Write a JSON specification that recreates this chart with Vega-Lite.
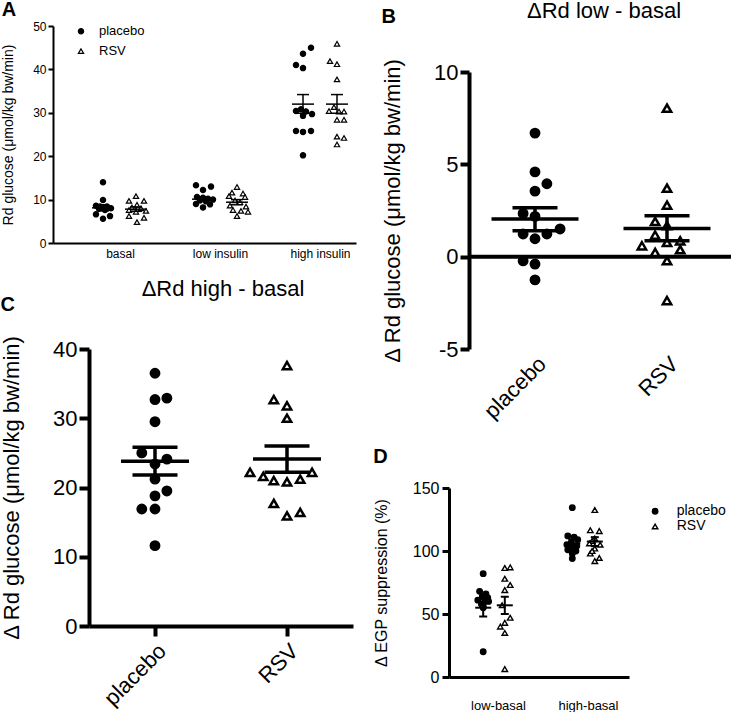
{
  "$schema": "https://vega.github.io/schema/vega-lite/v6.json",
  "padding": {"left": 0, "top": 0, "right": 0, "bottom": 0},
  "background": "white",
  "config": {
    "font": "Liberation Sans",
    "view": {"stroke": null},
    "axis": {"grid": false, "domainColor": "black", "tickColor": "black", "labelColor": "black", "titleColor": "black", "titleFontWeight": "normal", "labelFont": "Liberation Sans", "titleFont": "Liberation Sans"},
    "title": {"color": "black", "font": "Liberation Sans"}
  },
  "datasets": {
    "A_pts": [
      {"grp": "placebo", "x": 0.83, "v": 14.0}, {"grp": "placebo", "x": 0.83, "v": 9.9}, {"grp": "placebo", "x": 0.76, "v": 8.6}, {"grp": "placebo", "x": 0.80, "v": 8.4}, {"grp": "placebo", "x": 0.83, "v": 8.2}, {"grp": "placebo", "x": 0.87, "v": 8.4}, {"grp": "placebo", "x": 0.91, "v": 8.0}, {"grp": "placebo", "x": 0.79, "v": 7.9}, {"grp": "placebo", "x": 0.85, "v": 7.6}, {"grp": "placebo", "x": 0.76, "v": 6.6}, {"grp": "placebo", "x": 0.90, "v": 6.2}, {"grp": "placebo", "x": 0.83, "v": 5.6},
      {"grp": "placebo", "x": 1.76, "v": 13.3}, {"grp": "placebo", "x": 1.83, "v": 12.2}, {"grp": "placebo", "x": 1.91, "v": 13.0}, {"grp": "placebo", "x": 1.77, "v": 10.6}, {"grp": "placebo", "x": 1.83, "v": 10.4}, {"grp": "placebo", "x": 1.88, "v": 10.2}, {"grp": "placebo", "x": 1.93, "v": 10.0}, {"grp": "placebo", "x": 1.80, "v": 9.8}, {"grp": "placebo", "x": 1.86, "v": 9.6}, {"grp": "placebo", "x": 1.76, "v": 9.0}, {"grp": "placebo", "x": 1.90, "v": 8.9}, {"grp": "placebo", "x": 1.83, "v": 8.2},
      {"grp": "placebo", "x": 2.91, "v": 45.0}, {"grp": "placebo", "x": 2.83, "v": 43.6}, {"grp": "placebo", "x": 2.76, "v": 41.0}, {"grp": "placebo", "x": 2.83, "v": 40.3}, {"grp": "placebo", "x": 2.76, "v": 30.4}, {"grp": "placebo", "x": 2.81, "v": 30.8}, {"grp": "placebo", "x": 2.86, "v": 30.3}, {"grp": "placebo", "x": 2.92, "v": 29.7}, {"grp": "placebo", "x": 2.83, "v": 29.3}, {"grp": "placebo", "x": 2.76, "v": 25.8}, {"grp": "placebo", "x": 2.83, "v": 25.6}, {"grp": "placebo", "x": 2.91, "v": 25.8}, {"grp": "placebo", "x": 2.83, "v": 20.2},
      {"grp": "RSV", "x": 1.16, "v": 10.8}, {"grp": "RSV", "x": 1.09, "v": 9.7}, {"grp": "RSV", "x": 1.24, "v": 9.7}, {"grp": "RSV", "x": 1.17, "v": 8.8}, {"grp": "RSV", "x": 1.12, "v": 8.2}, {"grp": "RSV", "x": 1.21, "v": 8.0}, {"grp": "RSV", "x": 1.09, "v": 7.6}, {"grp": "RSV", "x": 1.26, "v": 7.4}, {"grp": "RSV", "x": 1.16, "v": 7.2}, {"grp": "RSV", "x": 1.09, "v": 6.2}, {"grp": "RSV", "x": 1.24, "v": 5.8}, {"grp": "RSV", "x": 1.17, "v": 4.8},
      {"grp": "RSV", "x": 2.17, "v": 12.9}, {"grp": "RSV", "x": 2.12, "v": 11.6}, {"grp": "RSV", "x": 2.23, "v": 11.4}, {"grp": "RSV", "x": 2.09, "v": 10.8}, {"grp": "RSV", "x": 2.25, "v": 10.6}, {"grp": "RSV", "x": 2.15, "v": 9.8}, {"grp": "RSV", "x": 2.20, "v": 9.4}, {"grp": "RSV", "x": 2.10, "v": 8.6}, {"grp": "RSV", "x": 2.26, "v": 8.4}, {"grp": "RSV", "x": 2.13, "v": 7.6}, {"grp": "RSV", "x": 2.21, "v": 7.4}, {"grp": "RSV", "x": 2.28, "v": 7.2}, {"grp": "RSV", "x": 2.17, "v": 6.2},
      {"grp": "RSV", "x": 3.17, "v": 45.9}, {"grp": "RSV", "x": 3.10, "v": 41.9}, {"grp": "RSV", "x": 3.17, "v": 41.2}, {"grp": "RSV", "x": 3.17, "v": 37.7}, {"grp": "RSV", "x": 3.14, "v": 31.3}, {"grp": "RSV", "x": 3.09, "v": 30.4}, {"grp": "RSV", "x": 3.19, "v": 30.3}, {"grp": "RSV", "x": 3.24, "v": 30.3}, {"grp": "RSV", "x": 3.17, "v": 28.4}, {"grp": "RSV", "x": 3.24, "v": 28.4}, {"grp": "RSV", "x": 3.17, "v": 24.5}, {"grp": "RSV", "x": 3.24, "v": 24.2}, {"grp": "RSV", "x": 3.17, "v": 22.7}
    ],
    "A_sum": [
      {"grp": "placebo", "x": 0.83, "mean": 8.1, "lo": 7.4, "hi": 8.8},
      {"grp": "RSV", "x": 1.16, "mean": 7.8, "lo": 7.3, "hi": 8.3},
      {"grp": "placebo", "x": 1.83, "mean": 10.1, "lo": 9.6, "hi": 10.6},
      {"grp": "RSV", "x": 2.17, "mean": 9.4, "lo": 8.8, "hi": 10.0},
      {"grp": "placebo", "x": 2.83, "mean": 32.0, "lo": 29.9, "hi": 34.2},
      {"grp": "RSV", "x": 3.17, "mean": 32.0, "lo": 29.9, "hi": 34.2}
    ],
    "B_pts": [
      {"grp": "placebo", "x": 1.0, "v": 6.69}, {"grp": "placebo", "x": 1.0, "v": 4.59}, {"grp": "placebo", "x": 1.09, "v": 3.95}, {"grp": "placebo", "x": 1.0, "v": 3.55}, {"grp": "placebo", "x": 0.91, "v": 2.34}, {"grp": "placebo", "x": 1.0, "v": 2.18}, {"grp": "placebo", "x": 0.91, "v": 1.23}, {"grp": "placebo", "x": 1.09, "v": 1.23}, {"grp": "placebo", "x": 1.19, "v": 1.5}, {"grp": "placebo", "x": 1.0, "v": 0.97}, {"grp": "placebo", "x": 0.91, "v": -0.23}, {"grp": "placebo", "x": 1.0, "v": -0.4}, {"grp": "placebo", "x": 1.0, "v": -1.26},
      {"grp": "RSV", "x": 2.0, "v": 8.04}, {"grp": "RSV", "x": 2.0, "v": 3.71}, {"grp": "RSV", "x": 2.0, "v": 2.79}, {"grp": "RSV", "x": 1.91, "v": 1.91}, {"grp": "RSV", "x": 2.0, "v": 1.68}, {"grp": "RSV", "x": 1.91, "v": 1.17}, {"grp": "RSV", "x": 1.81, "v": 0.59}, {"grp": "RSV", "x": 2.0, "v": 0.77}, {"grp": "RSV", "x": 2.1, "v": 0.86}, {"grp": "RSV", "x": 1.91, "v": 0.23}, {"grp": "RSV", "x": 2.1, "v": 0.38}, {"grp": "RSV", "x": 2.0, "v": -0.22}, {"grp": "RSV", "x": 2.0, "v": -2.38}
    ],
    "B_sum": [
      {"grp": "placebo", "x": 1, "mean": 2.04, "lo": 1.41, "hi": 2.65},
      {"grp": "RSV", "x": 2, "mean": 1.53, "lo": 0.86, "hi": 2.22}
    ],
    "C_pts": [
      {"grp": "placebo", "x": 1.0, "v": 36.5}, {"grp": "placebo", "x": 1.0, "v": 32.7}, {"grp": "placebo", "x": 1.09, "v": 32.9}, {"grp": "placebo", "x": 1.0, "v": 29.5}, {"grp": "placebo", "x": 0.9, "v": 25.0}, {"grp": "placebo", "x": 1.09, "v": 24.1}, {"grp": "placebo", "x": 1.0, "v": 23.4}, {"grp": "placebo", "x": 1.0, "v": 21.2}, {"grp": "placebo", "x": 1.09, "v": 19.5}, {"grp": "placebo", "x": 1.0, "v": 18.8}, {"grp": "placebo", "x": 0.9, "v": 16.9}, {"grp": "placebo", "x": 1.0, "v": 16.9}, {"grp": "placebo", "x": 1.0, "v": 11.6},
      {"grp": "RSV", "x": 2.0, "v": 37.6}, {"grp": "RSV", "x": 1.9, "v": 32.7}, {"grp": "RSV", "x": 2.0, "v": 31.8}, {"grp": "RSV", "x": 2.0, "v": 30.0}, {"grp": "RSV", "x": 1.72, "v": 22.2}, {"grp": "RSV", "x": 1.82, "v": 21.6}, {"grp": "RSV", "x": 1.9, "v": 21.0}, {"grp": "RSV", "x": 2.0, "v": 20.8}, {"grp": "RSV", "x": 2.1, "v": 21.2}, {"grp": "RSV", "x": 2.19, "v": 22.2}, {"grp": "RSV", "x": 1.9, "v": 17.7}, {"grp": "RSV", "x": 2.0, "v": 15.9}, {"grp": "RSV", "x": 2.1, "v": 16.4}
    ],
    "C_sum": [
      {"grp": "placebo", "x": 1, "mean": 23.8, "lo": 21.8, "hi": 25.8},
      {"grp": "RSV", "x": 2, "mean": 24.1, "lo": 22.2, "hi": 26.0}
    ],
    "D_pts": [
      {"grp": "placebo", "x": 0.88, "v": 82}, {"grp": "placebo", "x": 0.84, "v": 68}, {"grp": "placebo", "x": 0.91, "v": 66}, {"grp": "placebo", "x": 0.87, "v": 64}, {"grp": "placebo", "x": 0.93, "v": 63}, {"grp": "placebo", "x": 0.82, "v": 61}, {"grp": "placebo", "x": 0.9, "v": 60}, {"grp": "placebo", "x": 0.86, "v": 58}, {"grp": "placebo", "x": 0.88, "v": 56}, {"grp": "placebo", "x": 0.88, "v": 55}, {"grp": "placebo", "x": 0.88, "v": 20}, {"grp": "placebo", "x": 0.94, "v": 60},
      {"grp": "RSV", "x": 1.12, "v": 86.5}, {"grp": "RSV", "x": 1.18, "v": 87}, {"grp": "RSV", "x": 1.12, "v": 78}, {"grp": "RSV", "x": 1.18, "v": 73}, {"grp": "RSV", "x": 1.12, "v": 69}, {"grp": "RSV", "x": 1.09, "v": 57}, {"grp": "RSV", "x": 1.18, "v": 47}, {"grp": "RSV", "x": 1.12, "v": 43}, {"grp": "RSV", "x": 1.07, "v": 40}, {"grp": "RSV", "x": 1.12, "v": 35}, {"grp": "RSV", "x": 1.12, "v": 6.3},
      {"grp": "placebo", "x": 1.87, "v": 134.4}, {"grp": "placebo", "x": 1.82, "v": 112}, {"grp": "placebo", "x": 1.89, "v": 111}, {"grp": "placebo", "x": 1.93, "v": 109}, {"grp": "placebo", "x": 1.86, "v": 107}, {"grp": "placebo", "x": 1.81, "v": 105}, {"grp": "placebo", "x": 1.92, "v": 104}, {"grp": "placebo", "x": 1.87, "v": 103}, {"grp": "placebo", "x": 1.82, "v": 101}, {"grp": "placebo", "x": 1.91, "v": 100}, {"grp": "placebo", "x": 1.87, "v": 98}, {"grp": "placebo", "x": 1.87, "v": 94},
      {"grp": "RSV", "x": 2.12, "v": 132.5}, {"grp": "RSV", "x": 2.07, "v": 116.5}, {"grp": "RSV", "x": 2.17, "v": 115.8}, {"grp": "RSV", "x": 2.12, "v": 110}, {"grp": "RSV", "x": 2.09, "v": 108}, {"grp": "RSV", "x": 2.06, "v": 106}, {"grp": "RSV", "x": 2.18, "v": 105}, {"grp": "RSV", "x": 2.12, "v": 102}, {"grp": "RSV", "x": 2.07, "v": 98}, {"grp": "RSV", "x": 2.17, "v": 94.5}, {"grp": "RSV", "x": 2.12, "v": 92}, {"grp": "RSV", "x": 2.09, "v": 100}
    ],
    "D_sum": [
      {"grp": "placebo", "x": 0.88, "mean": 55, "lo": 48, "hi": 62},
      {"grp": "RSV", "x": 1.12, "mean": 56.9, "lo": 50, "hi": 63.7},
      {"grp": "placebo", "x": 1.87, "mean": 106, "lo": 103, "hi": 109.3},
      {"grp": "RSV", "x": 2.12, "mean": 107.5, "lo": 104, "hi": 111}
    ],
    "one": [{}]
  },
  "resolve": {"scale": {"x": "independent", "y": "independent", "shape": "independent", "fill": "independent"}},
  "columns": 2,
  "align": "none",
  "spacing": 17,
  "concat": [
    {
      "columns": 1,
      "align": "none",
      "spacing": 19,
      "resolve": {"scale": {"x": "independent", "y": "independent", "shape": "independent", "fill": "independent"}},
      "concat": [
        {
          "width": 303,
          "height": 217,
          "title": {"text": "A", "anchor": "start", "frame": "bounds", "fontSize": 20, "fontWeight": "bold", "offset": 0},
          "layer": [
            {
              "data": {"name": "A_pts"},
              "mark": {"type": "point", "filled": true, "stroke": "black", "strokeWidth": 1.2, "opacity": 1, "size": 28},
              "encoding": {
                "x": {"field": "x", "type": "quantitative", "scale": {"domain": [0.33, 3.36], "nice": false, "zero": false},
                  "axis": {"values": [1, 2, 3], "labelExpr": "datum.value == 1 ? 'basal' : datum.value == 2 ? 'low insulin' : 'high insulin'", "ticks": false, "domainWidth": 2, "labelFontSize": 12, "labelPadding": 5, "title": null, "labelFlush": false}},
                "y": {"field": "v", "type": "quantitative", "scale": {"domain": [0, 50], "nice": false, "zero": false},
                  "axis": {"values": [0, 10, 20, 30, 40, 50], "title": "Rd glucose (μmol/kg bw/min)", "titleFontSize": 14, "titlePadding": 17, "labelFontSize": 12, "tickSize": 5, "tickWidth": 2, "domainWidth": 2, "labelPadding": 2}},
                "shape": {"field": "grp", "type": "nominal", "scale": {"domain": ["placebo", "RSV"], "range": ["circle", "triangle-up"]}, "legend": null},
                "fill": {"field": "grp", "type": "nominal", "scale": {"domain": ["placebo", "RSV"], "range": ["black", "white"]}, "legend": null}
              }
            },
            {
              "data": {"name": "A_sum"},
              "mark": {"type": "rule", "strokeWidth": 1.5, "color": "black"},
              "encoding": {"x": {"field": "x", "type": "quantitative"}, "y": {"field": "lo", "type": "quantitative"}, "y2": {"field": "hi"}}
            },
            {
              "data": {"name": "A_sum"},
              "mark": {"type": "tick", "orient": "horizontal", "size": 22, "thickness": 1.5, "color": "black", "opacity": 1},
              "encoding": {"x": {"field": "x", "type": "quantitative"}, "y": {"field": "mean", "type": "quantitative"}}
            },
            {
              "data": {"name": "A_sum"},
              "mark": {"type": "tick", "orient": "horizontal", "size": 12, "thickness": 1.5, "color": "black", "opacity": 1},
              "encoding": {"x": {"field": "x", "type": "quantitative"}, "y": {"field": "lo", "type": "quantitative"}}
            },
            {
              "data": {"name": "A_sum"},
              "mark": {"type": "tick", "orient": "horizontal", "size": 12, "thickness": 1.5, "color": "black", "opacity": 1},
              "encoding": {"x": {"field": "x", "type": "quantitative"}, "y": {"field": "hi", "type": "quantitative"}}
            },
            {
              "data": {"name": "one"},
              "mark": {"type": "point", "shape": "circle", "filled": true, "fill": "black", "stroke": "black", "strokeWidth": 1.2, "size": 28, "opacity": 1},
              "encoding": {"x": {"datum": 0.61, "type": "quantitative"}, "y": {"datum": 48.8, "type": "quantitative"}}
            },
            {
              "data": {"name": "one"},
              "mark": {"type": "point", "shape": "triangle-up", "filled": true, "fill": "white", "stroke": "black", "strokeWidth": 1.2, "size": 28, "opacity": 1},
              "encoding": {"x": {"datum": 0.61, "type": "quantitative"}, "y": {"datum": 44.2, "type": "quantitative"}}
            },
            {
              "data": {"name": "one"},
              "mark": {"type": "text", "text": "placebo", "align": "left", "baseline": "middle", "fontSize": 13, "font": "Liberation Sans", "color": "black"},
              "encoding": {"x": {"datum": 0.79, "type": "quantitative"}, "y": {"datum": 48.8, "type": "quantitative"}}
            },
            {
              "data": {"name": "one"},
              "mark": {"type": "text", "text": "RSV", "align": "left", "baseline": "middle", "fontSize": 13, "font": "Liberation Sans", "color": "black"},
              "encoding": {"x": {"datum": 0.79, "type": "quantitative"}, "y": {"datum": 44.2, "type": "quantitative"}}
            }
          ]
        },
        {
          "title": {"text": "ΔRd high - basal", "anchor": "middle", "frame": "group", "fontSize": 22, "fontWeight": "normal", "offset": -6, "dx": 170},
          "resolve": {"scale": {"x": "independent", "y": "independent", "shape": "independent", "fill": "independent"}},
          "vconcat": [
            {
              "width": 300,
              "height": 277,
              "title": {"text": "C", "anchor": "start", "frame": "bounds", "fontSize": 20, "fontWeight": "bold", "offset": 20},
              "layer": [
                {
                  "data": {"name": "C_pts"},
                  "mark": {"type": "point", "filled": true, "stroke": "black", "strokeWidth": 2.5, "opacity": 1, "size": 70},
                  "encoding": {
                    "x": {"field": "x", "type": "quantitative", "scale": {"domain": [0.5, 2.5], "range": [36, 300], "nice": false, "zero": false},
                      "axis": {"values": [1, 2], "labelExpr": "datum.value == 1 ? 'placebo' : 'RSV'", "labelAngle": -45, "tickSize": 10, "tickWidth": 4, "domainWidth": 4, "labelFontSize": 22, "labelPadding": 4, "title": null, "labelFlush": false}},
                    "y": {"field": "v", "type": "quantitative", "scale": {"domain": [0, 40], "nice": false, "zero": false},
                      "axis": {"values": [0, 10, 20, 30, 40], "offset": -36, "title": "Δ Rd glucose (μmol/kg bw/min)", "titleFontSize": 22, "titlePadding": 29, "labelFontSize": 22, "tickSize": 10, "tickWidth": 4, "domainWidth": 4, "labelPadding": 2}},
                    "shape": {"field": "grp", "type": "nominal", "scale": {"domain": ["placebo", "RSV"], "range": ["circle", "triangle-up"]}, "legend": null},
                    "fill": {"field": "grp", "type": "nominal", "scale": {"domain": ["placebo", "RSV"], "range": ["black", "white"]}, "legend": null}
                  }
                },
                {
                  "data": {"name": "C_sum"},
                  "mark": {"type": "rule", "strokeWidth": 3.5, "color": "black"},
                  "encoding": {"x": {"field": "x", "type": "quantitative"}, "y": {"field": "lo", "type": "quantitative"}, "y2": {"field": "hi"}}
                },
                {
                  "data": {"name": "C_sum"},
                  "mark": {"type": "tick", "orient": "horizontal", "size": 68, "thickness": 3.5, "color": "black", "opacity": 1},
                  "encoding": {"x": {"field": "x", "type": "quantitative"}, "y": {"field": "mean", "type": "quantitative"}}
                },
                {
                  "data": {"name": "C_sum"},
                  "mark": {"type": "tick", "orient": "horizontal", "size": 45, "thickness": 3.5, "color": "black", "opacity": 1},
                  "encoding": {"x": {"field": "x", "type": "quantitative"}, "y": {"field": "lo", "type": "quantitative"}}
                },
                {
                  "data": {"name": "C_sum"},
                  "mark": {"type": "tick", "orient": "horizontal", "size": 45, "thickness": 3.5, "color": "black", "opacity": 1},
                  "encoding": {"x": {"field": "x", "type": "quantitative"}, "y": {"field": "hi", "type": "quantitative"}}
                }
              ]
            }
          ]
        }
      ]
    },
    {
      "columns": 1,
      "align": "none",
      "spacing": 24,
      "resolve": {"scale": {"x": "independent", "y": "independent", "shape": "independent", "fill": "independent"}},
      "concat": [
        {
          "title": {"text": "B", "anchor": "start", "frame": "bounds", "fontSize": 20, "fontWeight": "bold", "offset": 0, "dy": 27},
          "resolve": {"scale": {"x": "independent", "y": "independent", "shape": "independent", "fill": "independent"}},
          "vconcat": [
            {
              "width": 284,
              "height": 323,
              "title": {"text": "ΔRd low - basal", "anchor": "middle", "frame": "group", "fontSize": 22, "fontWeight": "normal", "offset": 3, "dx": 13},
              "layer": [
                {
                  "data": {"name": "one"},
                  "mark": {"type": "rule", "strokeWidth": 4, "color": "black"},
                  "encoding": {"x": {"datum": 0.5, "type": "quantitative"}, "x2": {"datum": 2.5}, "y": {"datum": 0, "type": "quantitative"}}
                },
                {
                  "data": {"name": "B_pts"},
                  "mark": {"type": "point", "filled": true, "stroke": "black", "strokeWidth": 2.5, "opacity": 1, "size": 70},
                  "encoding": {
                    "x": {"field": "x", "type": "quantitative", "scale": {"domain": [0.5, 2.5], "range": [20, 284], "nice": false, "zero": false},
                      "axis": {"values": [1, 2], "labelExpr": "datum.value == 1 ? 'placebo' : 'RSV'", "labelAngle": -45, "ticks": false, "domain": false, "labelFontSize": 22, "labelPadding": 4, "title": null, "labelFlush": false}},
                    "y": {"field": "v", "type": "quantitative", "scale": {"domain": [-5, 10], "range": [323, 46], "nice": false, "zero": false},
                      "axis": {"values": [-5, 0, 5, 10], "offset": -20, "labelExpr": "replace(datum.label, '−', '-')", "title": "Δ Rd glucose (μmol/kg bw/min)", "titleFontSize": 22, "titlePadding": 29, "labelFontSize": 22, "tickSize": 9, "tickWidth": 4, "domainWidth": 4, "labelPadding": 2}},
                    "shape": {"field": "grp", "type": "nominal", "scale": {"domain": ["placebo", "RSV"], "range": ["circle", "triangle-up"]}, "legend": null},
                    "fill": {"field": "grp", "type": "nominal", "scale": {"domain": ["placebo", "RSV"], "range": ["black", "white"]}, "legend": null}
                  }
                },
                {
                  "data": {"name": "B_sum"},
                  "mark": {"type": "rule", "strokeWidth": 3.5, "color": "black"},
                  "encoding": {"x": {"field": "x", "type": "quantitative"}, "y": {"field": "lo", "type": "quantitative"}, "y2": {"field": "hi"}}
                },
                {
                  "data": {"name": "B_sum"},
                  "mark": {"type": "tick", "orient": "horizontal", "size": 87, "thickness": 3.5, "color": "black", "opacity": 1},
                  "encoding": {"x": {"field": "x", "type": "quantitative"}, "y": {"field": "mean", "type": "quantitative"}}
                },
                {
                  "data": {"name": "B_sum"},
                  "mark": {"type": "tick", "orient": "horizontal", "size": 45, "thickness": 3.5, "color": "black", "opacity": 1},
                  "encoding": {"x": {"field": "x", "type": "quantitative"}, "y": {"field": "lo", "type": "quantitative"}}
                },
                {
                  "data": {"name": "B_sum"},
                  "mark": {"type": "tick", "orient": "horizontal", "size": 45, "thickness": 3.5, "color": "black", "opacity": 1},
                  "encoding": {"x": {"field": "x", "type": "quantitative"}, "y": {"field": "hi", "type": "quantitative"}}
                }
              ]
            }
          ]
        },
        {
          "width": 180,
          "height": 189,
          "title": {"text": "D", "anchor": "start", "frame": "bounds", "fontSize": 20, "fontWeight": "bold", "offset": 13},
          "layer": [
            {
              "data": {"name": "D_pts"},
              "mark": {"type": "point", "filled": true, "stroke": "black", "strokeWidth": 1.4, "opacity": 1, "size": 30},
              "encoding": {
                "x": {"field": "x", "type": "quantitative", "scale": {"domain": [0.5, 2.5], "nice": false, "zero": false},
                  "axis": {"values": [1, 2], "labelExpr": "datum.value == 1 ? 'low-basal' : 'high-basal'", "ticks": false, "domainWidth": 3, "labelFontSize": 13, "labelPadding": 22, "labelOffset": 4, "title": null, "labelFlush": false}},
                "y": {"field": "v", "type": "quantitative", "scale": {"domain": [0, 150], "nice": false, "zero": false},
                  "axis": {"values": [0, 50, 100, 150], "title": "Δ EGP suppression (%)", "titleFontSize": 16, "titlePadding": 23, "labelFontSize": 16, "tickSize": 7, "tickWidth": 3, "domainWidth": 3, "labelPadding": 3}},
                "shape": {"field": "grp", "type": "nominal", "scale": {"domain": ["placebo", "RSV"], "range": ["circle", "triangle-up"]}, "legend": null},
                "fill": {"field": "grp", "type": "nominal", "scale": {"domain": ["placebo", "RSV"], "range": ["black", "white"]}, "legend": null}
              }
            },
            {
              "data": {"name": "D_sum"},
              "mark": {"type": "rule", "strokeWidth": 2, "color": "black"},
              "encoding": {"x": {"field": "x", "type": "quantitative"}, "y": {"field": "lo", "type": "quantitative"}, "y2": {"field": "hi"}}
            },
            {
              "data": {"name": "D_sum"},
              "mark": {"type": "tick", "orient": "horizontal", "size": 16, "thickness": 2, "color": "black", "opacity": 1},
              "encoding": {"x": {"field": "x", "type": "quantitative"}, "y": {"field": "mean", "type": "quantitative"}}
            },
            {
              "data": {"name": "D_sum"},
              "mark": {"type": "tick", "orient": "horizontal", "size": 8, "thickness": 2, "color": "black", "opacity": 1},
              "encoding": {"x": {"field": "x", "type": "quantitative"}, "y": {"field": "lo", "type": "quantitative"}}
            },
            {
              "data": {"name": "D_sum"},
              "mark": {"type": "tick", "orient": "horizontal", "size": 8, "thickness": 2, "color": "black", "opacity": 1},
              "encoding": {"x": {"field": "x", "type": "quantitative"}, "y": {"field": "hi", "type": "quantitative"}}
            },
            {
              "data": {"name": "one"},
              "mark": {"type": "point", "shape": "circle", "filled": true, "fill": "black", "stroke": "black", "strokeWidth": 1.4, "size": 30, "opacity": 1},
              "encoding": {"x": {"datum": 2.79, "type": "quantitative"}, "y": {"datum": 131.5, "type": "quantitative"}}
            },
            {
              "data": {"name": "one"},
              "mark": {"type": "point", "shape": "triangle-up", "filled": true, "fill": "white", "stroke": "black", "strokeWidth": 1.4, "size": 30, "opacity": 1},
              "encoding": {"x": {"datum": 2.79, "type": "quantitative"}, "y": {"datum": 119.5, "type": "quantitative"}}
            },
            {
              "data": {"name": "one"},
              "mark": {"type": "text", "text": "placebo", "align": "left", "baseline": "middle", "fontSize": 14, "font": "Liberation Sans", "color": "black"},
              "encoding": {"x": {"datum": 3.03, "type": "quantitative"}, "y": {"datum": 131.5, "type": "quantitative"}}
            },
            {
              "data": {"name": "one"},
              "mark": {"type": "text", "text": "RSV", "align": "left", "baseline": "middle", "fontSize": 14, "font": "Liberation Sans", "color": "black"},
              "encoding": {"x": {"datum": 3.03, "type": "quantitative"}, "y": {"datum": 119.5, "type": "quantitative"}}
            }
          ]
        }
      ]
    }
  ]
}
